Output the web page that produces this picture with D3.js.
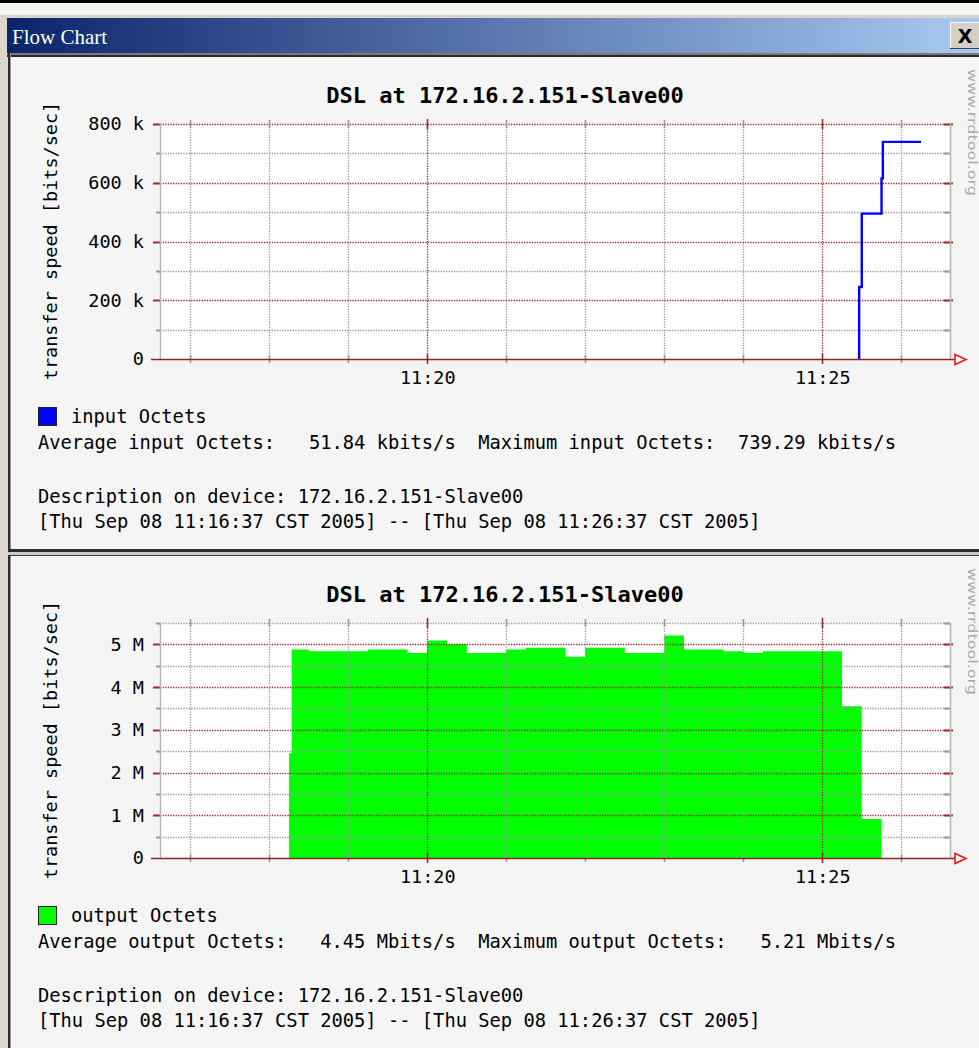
<!DOCTYPE html>
<html>
<head>
<meta charset="utf-8">
<script src="https://cdn.jsdelivr.net/npm/d3@7"></script>
<style>
  html, body { margin: 0; padding: 0; background: #000; }
  svg { display: block; }
  text { white-space: pre; }
</style>
</head>
<body>
<svg id="win" width="979" height="1048"></svg>
<script>
// ---- window / chart text ----
const windowTitle = "Flow Chart";
const chartTitle = "DSL at 172.16.2.151-Slave00";
const axisTitle = "transfer speed [bits/sec]";
const watermark = "www.rrdtool.org";

// ---- time axis ----
const timeStart = "11:16:37";
const timeEnd = "11:26:37";
const minuteMarks = ["11:17:00", "11:18:00", "11:19:00", "11:20:00", "11:21:00",
                     "11:22:00", "11:23:00", "11:24:00", "11:25:00", "11:26:00"];
const labelledMarks = ["11:20:00", "11:25:00"];

// ---- input octets (line); each value covers the interval ending at its time ----
const inputTimes  = ["11:25:28", "11:25:30", "11:25:45", "11:25:46", "11:26:15"];
const inputValues = [0, 245000, 495000, 615000, 739290];
const inputTicks = [0, 200000, 400000, 600000, 800000];
const inputTickLabels = ["0", "200 k", "400 k", "600 k", "800 k"];
const inputMinorTicks = [100000, 300000, 500000, 700000];
const inputMax = 800000;
const inputLegend = "input Octets";
const inputStats = "Average input Octets:   51.84 kbits/s  Maximum input Octets:  739.29 kbits/s";

// ---- output octets (area); each value covers the interval ending at its time ----
const outputTimes = ["11:18:15", "11:18:17", "11:18:30", "11:18:45", "11:19:00", "11:19:15",
  "11:19:30", "11:19:45", "11:20:00", "11:20:15", "11:20:30", "11:20:45", "11:21:00",
  "11:21:15", "11:21:30", "11:21:45", "11:22:00", "11:22:15", "11:22:30", "11:22:45",
  "11:23:00", "11:23:15", "11:23:30", "11:23:45", "11:24:00", "11:24:15", "11:24:30",
  "11:24:45", "11:25:00", "11:25:15", "11:25:30", "11:25:45"];
const outputValues = [0, 2450000, 4880000, 4840000, 4840000, 4840000,
  4880000, 4880000, 4800000, 5090000, 5000000, 4800000, 4800000,
  4880000, 4920000, 4920000, 4710000, 4920000, 4920000, 4800000,
  4800000, 5210000, 4880000, 4880000, 4840000, 4800000, 4840000,
  4840000, 4840000, 4840000, 3550000, 910000];
const outputTicks = [0, 1000000, 2000000, 3000000, 4000000, 5000000];
const outputTickLabels = ["0", "1 M", "2 M", "3 M", "4 M", "5 M"];
const outputMinorTicks = [500000, 1500000, 2500000, 3500000, 4500000, 5500000];
const outputMax = 5500000;
const outputLegend = "output Octets";
const outputStats = "Average output Octets:   4.45 Mbits/s  Maximum output Octets:   5.21 Mbits/s";

const descLine = "Description on device: 172.16.2.151-Slave00";
const rangeLine = "[Thu Sep 08 11:16:37 CST 2005] -- [Thu Sep 08 11:26:37 CST 2005]";

// ---- styling ----
const MONO = "'DejaVu Sans Mono', monospace";
const MAJOR = "#a02a2a";
const MINOR = "#9a9a9a";
const parse = d3.timeParse("%H:%M:%S");

const svg = d3.select("#win");

// window chrome
svg.append("rect").attr("x", 0).attr("y", 0).attr("width", 979).attr("height", 1048).attr("fill", "#dcd6ce");
svg.append("rect").attr("x", 0).attr("y", 0).attr("width", 979).attr("height", 3).attr("fill", "#000");
svg.append("rect").attr("x", 0).attr("y", 3).attr("width", 979).attr("height", 13).attr("fill", "#f6f4f0");
svg.append("rect").attr("x", 0).attr("y", 15).attr("width", 979).attr("height", 2).attr("fill", "#d6d0c6");

const defs = svg.append("defs");
const grad = defs.append("linearGradient").attr("id", "titlebar").attr("x1", 0).attr("x2", 1).attr("y1", 0).attr("y2", 0);
grad.append("stop").attr("offset", "0%").attr("stop-color", "#0a246a");
grad.append("stop").attr("offset", "100%").attr("stop-color", "#a8caf2");

svg.append("rect").attr("x", 7).attr("y", 18).attr("width", 972).attr("height", 35).attr("fill", "url(#titlebar)");
svg.append("text").attr("x", 12).attr("y", 44)
  .attr("font-family", "'Liberation Serif', serif").attr("font-size", 21)
  .attr("fill", "#fff").text(windowTitle);

// close button
svg.append("rect").attr("x", 950).attr("y", 22).attr("width", 29).attr("height", 27).attr("fill", "#d4d0c8");
svg.append("path").attr("d", "M950.5,48.5V22.5H979").attr("stroke", "#fff").attr("fill", "none");
svg.append("path").attr("d", "M950,48.5H979").attr("stroke", "#404040").attr("fill", "none");
svg.append("text").attr("x", 965).attr("y", 43).attr("text-anchor", "middle")
  .attr("font-family", "'DejaVu Sans', sans-serif").attr("font-weight", "bold").attr("font-size", 19)
  .attr("fill", "#000").text("X");

// frame lines under the title bar and on the left
svg.append("rect").attr("x", 7).attr("y", 53).attr("width", 972).attr("height", 2).attr("fill", "#7a7a7a");
svg.append("rect").attr("x", 7).attr("y", 55).attr("width", 972).attr("height", 2).attr("fill", "#2c2c2c");
svg.append("rect").attr("x", 8).attr("y", 53).attr("width", 2).attr("height", 995).attr("fill", "#2c2c2c");
svg.append("rect").attr("x", 10).attr("y", 53).attr("width", 1).attr("height", 995).attr("fill", "#9a948c");

function drawPanel(oy, cfg) {
  const g = svg.append("g").attr("transform", `translate(0,${oy})`);
  g.append("rect").attr("x", 11).attr("y", 0).attr("width", 968).attr("height", cfg.panelH).attr("fill", "#f5f5f5");

  const x = d3.scaleTime().domain([parse(timeStart), parse(timeEnd)]).range([160, 950]);
  const y = d3.scaleLinear().domain([0, cfg.max]).range([302, 67]);
  const data = cfg.times.map((t, i) => ({ t: parse(t), v: cfg.values[i] }));

  // canvas
  g.append("rect").attr("x", 160).attr("y", 67).attr("width", 790).attr("height", 235).attr("fill", "#fff");

  // title
  g.append("text").attr("x", 505).attr("y", 46).attr("text-anchor", "middle")
    .attr("font-family", MONO).attr("font-weight", "bold").attr("font-size", 22)
    .attr("fill", "#000").text(chartTitle);

  // area series goes under the grid
  if (cfg.kind === "area") {
    const area = d3.area().curve(d3.curveStepBefore)
      .x(d => x(d.t)).y0(y(0)).y1(d => y(d.v));
    g.append("path").datum(data).attr("d", area).attr("fill", cfg.color);
  }

  // horizontal grid
  const hgrid = (vals, col, tl, tr) => {
    vals.forEach(v => {
      const yy = Math.round(y(v)) + 0.5;
      g.append("line").attr("x1", 160).attr("x2", 950).attr("y1", yy).attr("y2", yy)
        .attr("stroke", col).attr("stroke-width", 1.3).attr("stroke-dasharray", "1.3,1.3");
      g.append("line").attr("x1", tl).attr("x2", 161).attr("y1", yy).attr("y2", yy)
        .attr("stroke", col).attr("stroke-width", 2);
      g.append("line").attr("x1", 944).attr("x2", tr).attr("y1", yy).attr("y2", yy)
        .attr("stroke", col).attr("stroke-width", 2);
    });
  };
  hgrid(cfg.minor, MINOR, 156, 951);
  hgrid(cfg.ticks.filter(v => v > 0), MAJOR, 153, 953);

  // vertical grid
  const majorSet = new Set(labelledMarks);
  minuteMarks.forEach(m => {
    const col = majorSet.has(m) ? MAJOR : MINOR;
    const xx = Math.round(x(parse(m))) + 0.5;
    g.append("line").attr("x1", xx).attr("x2", xx).attr("y1", 67).attr("y2", 302)
      .attr("stroke", col).attr("stroke-width", 1.3).attr("stroke-dasharray", "1.3,1.3");
    const len = majorSet.has(m) ? 5 : 4;
    g.append("line").attr("x1", xx).attr("x2", xx).attr("y1", 67 - len).attr("y2", 67 + len)
      .attr("stroke", col).attr("stroke-width", 1.6);
    g.append("line").attr("x1", xx).attr("x2", xx).attr("y1", 302 - len).attr("y2", 302 + len)
      .attr("stroke", col).attr("stroke-width", 1.6);
  });

  // side borders of the canvas
  g.append("line").attr("x1", 160.5).attr("x2", 160.5).attr("y1", 67).attr("y2", 302)
    .attr("stroke", "#b4b4b4").attr("stroke-width", 1.5);
  g.append("line").attr("x1", 950.5).attr("x2", 950.5).attr("y1", 67).attr("y2", 302)
    .attr("stroke", "#b4b4b4").attr("stroke-width", 1.5);

  // line series goes over the grid
  if (cfg.kind === "line") {
    const line = d3.line().curve(d3.curveStepBefore).x(d => x(d.t)).y(d => y(d.v));
    g.append("path").datum(data).attr("d", line).attr("fill", "none")
      .attr("stroke", cfg.color).attr("stroke-width", 2.4);
  }

  // x axis line with arrow
  g.append("line").attr("x1", 151).attr("x2", 955).attr("y1", 302.5).attr("y2", 302.5)
    .attr("stroke", "#8e2626").attr("stroke-width", 1.6);
  g.append("path").attr("d", "M955,297.5L966,302.5L955,307.5Z")
    .attr("fill", "#fff").attr("stroke", "#ff1010").attr("stroke-width", 1.6);

  // y axis labels
  const yAxis = d3.axisLeft(y).tickValues(cfg.ticks)
    .tickFormat((d, i) => cfg.tickLabels[i]).tickSize(0).tickPadding(16);
  const ya = g.append("g").attr("transform", "translate(160,0)").call(yAxis);
  ya.select(".domain").remove();
  ya.selectAll("text").attr("font-family", MONO).attr("font-size", 18.5).attr("fill", "#000");

  // x axis labels
  const xAxis = d3.axisBottom(x).tickValues(labelledMarks.map(parse))
    .tickFormat(d3.timeFormat("%H:%M")).tickSize(0).tickPadding(12);
  const xa = g.append("g").attr("transform", "translate(0,302)").call(xAxis);
  xa.select(".domain").remove();
  xa.selectAll("text").attr("font-family", MONO).attr("font-size", 18.5).attr("fill", "#000");

  // vertical axis title
  g.append("text").attr("transform", "translate(57,184) rotate(-90)").attr("text-anchor", "middle")
    .attr("font-family", MONO).attr("font-size", 18.5).attr("fill", "#000").text(axisTitle);

  // watermark
  g.append("text").attr("transform", "translate(968,12) rotate(90)")
    .attr("font-family", "'DejaVu Sans', sans-serif").attr("font-size", 12.5)
    .attr("textLength", 127).attr("lengthAdjust", "spacingAndGlyphs")
    .attr("fill", "#a9a9a9").text(watermark);

  // legend
  g.append("rect").attr("x", 38.5).attr("y", 350.5).attr("width", 18).attr("height", 18)
    .attr("fill", cfg.color).attr("stroke", "#222");
  const txt = (xx, yy, s) => g.append("text").attr("x", xx).attr("y", yy)
    .attr("font-family", MONO).attr("font-size", 18.75).attr("fill", "#000").text(s);
  txt(71, 366, cfg.legend);
  txt(38, 392, cfg.stats);
  txt(38, 446, descLine);
  txt(38, 471, rangeLine);
}

drawPanel(57, {
  kind: "line", color: "#0000ff", panelH: 492,
  times: inputTimes, values: inputValues, max: inputMax,
  ticks: inputTicks, tickLabels: inputTickLabels, minor: inputMinorTicks,
  legend: inputLegend, stats: inputStats
});

// separator between the two panels
svg.append("rect").attr("x", 8).attr("y", 549).attr("width", 971).attr("height", 3).attr("fill", "#2c2c2c");
svg.append("rect").attr("x", 8).attr("y", 552).attr("width", 971).attr("height", 3).attr("fill", "#cfc8bf");
svg.append("rect").attr("x", 8).attr("y", 555).attr("width", 971).attr("height", 1.5).attr("fill", "#3a3a3a");

drawPanel(556, {
  kind: "area", color: "#00ff00", panelH: 492,
  times: outputTimes, values: outputValues, max: outputMax,
  ticks: outputTicks, tickLabels: outputTickLabels, minor: outputMinorTicks,
  legend: outputLegend, stats: outputStats
});
</script>
</body>
</html>
